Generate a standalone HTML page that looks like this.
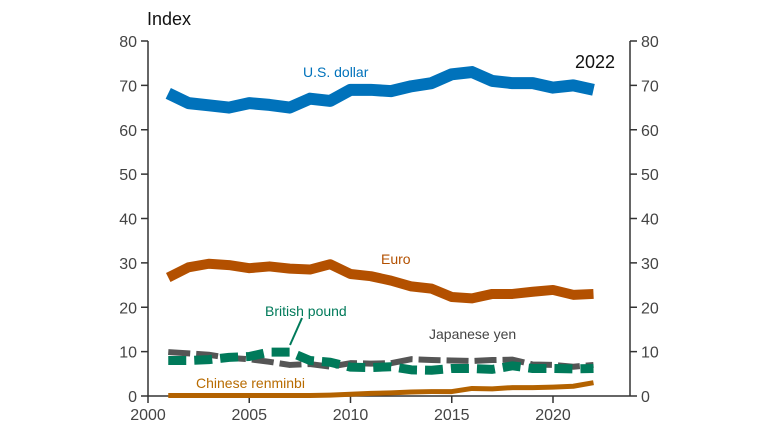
<!DOCTYPE html>
<html><head><meta charset="utf-8"><style>
body{margin:0;background:#fff}
svg text{font-family:"Liberation Sans",Arial,sans-serif}
</style></head><body>
<svg id="c" width="774" height="432" xmlns="http://www.w3.org/2000/svg"></svg>
<script>
const years=[2001,2002,2003,2004,2005,2006,2007,2008,2009,2010,2011,2012,2013,2014,2015,2016,2017,2018,2019,2020,2021,2022];
const usd=[68.2,66,65.5,65,66,65.6,65,67,66.5,69,69,68.7,69.8,70.5,72.5,73,71,70.5,70.5,69.5,70,69];
const euro=[26.7,29,29.8,29.5,28.8,29.2,28.7,28.5,29.7,27.5,27,26,24.7,24.2,22.3,22,23,23,23.5,23.9,22.8,23];
const yen=[9.9,9.6,9.3,8.6,8.3,7.7,7.0,7.2,6.6,7.4,7.3,7.4,8.3,8.1,8.0,7.9,8.1,8.2,7.1,7.0,6.6,7.0];
const pound=[8.0,8.0,8.2,8.7,8.9,9.9,9.9,8.0,7.6,6.5,6.4,6.6,5.9,5.8,6.2,6.2,6.0,6.8,6.2,6.2,6.1,6.2];
const rmb=[0.1,0.1,0.1,0.1,0.1,0.1,0.1,0.1,0.2,0.4,0.6,0.7,0.9,1.0,1.0,1.7,1.6,1.9,1.9,2.0,2.2,3.0];
const yTicks=[0,10,20,30,40,50,60,70,80];
const xTicks=[2000,2005,2010,2015,2020];
const X=v=>148+(v-2000)*20.25, Y=v=>396-v*4.4375;
const s=document.getElementById('c'),NS='http://www.w3.org/2000/svg';
function el(t,a,txt){const e=document.createElementNS(NS,t);for(const k in a)e.setAttribute(k,a[k]);if(txt!==undefined)e.textContent=txt;s.appendChild(e);return e;}
let e;
e=el('line',{x1:148,y1:41,x2:148,y2:396,stroke:'#333','stroke-width':1.5});


e=el('line',{x1:630,y1:41,x2:630,y2:396,stroke:'#333','stroke-width':1.5});


e=el('line',{x1:148,y1:396,x2:630,y2:396,stroke:'#333','stroke-width':1.5});


yTicks.forEach(v=>{
 el('line',{x1:141,x2:148,y1:Y(v),y2:Y(v),stroke:'#333','stroke-width':1.5});
 el('line',{x1:630,x2:637,y1:Y(v),y2:Y(v),stroke:'#333','stroke-width':1.5});
 e=el('text',{x:137,y:Y(v)+6,'text-anchor':'end','font-size':16,fill:'#444'},v);
 
 
 e=el('text',{x:641,y:Y(v)+6,'font-size':16,fill:'#444'},v);
 
 
});
xTicks.forEach(v=>{
 el('line',{x1:X(v),x2:X(v),y1:396,y2:403,stroke:'#333','stroke-width':1.5});
 e=el('text',{x:X(v),y:420,'text-anchor':'middle','font-size':16,fill:'#444'},v);
 
 
});
function line(d,c,w,dash,name){
 const p=years.map((y,i)=>(i?'L':'M')+X(y)+','+Y(d[i])).join('');
 const a={d:p,fill:'none',stroke:c,'stroke-width':w,'stroke-linejoin':'round'};
 if(dash)a['stroke-dasharray']=dash;
 e=el('path',a);
 
 
}
line(rmb,'#b36200',5,null,'renminbi-line');
line(yen,'#555555',6,'22,6','yen-line');
line(pound,'#007a5a',9,'18,8','pound-line');
line(euro,'#b35000',10,null,'euro-line');
line(usd,'#0072bb',12,null,'usd-line');
e=el('line',{x1:290,y1:345,x2:302,y2:318,stroke:'#007a5a','stroke-width':2});


const labels=[['Index',147,25,18,'#111','start','y-axis-title'],['2022',575,68,18,'#111','start','year-label'],
['U.S. dollar',303,77,14,'#0072bb','start','usd-label'],['Euro',381,264,14,'#b35000','start','euro-label'],
['British pound',265,316,14,'#007a5a','start','pound-label'],['Japanese yen',429,339,14,'#444','start','yen-label'],
['Chinese renminbi',196,388,14,'#b86b00','start','renminbi-label']];
labels.forEach(l=>{e=el('text',{x:l[1],y:l[2],'font-size':l[3],fill:l[4],'text-anchor':l[5]},l[0]);
 
 });
</script>
</body></html>
